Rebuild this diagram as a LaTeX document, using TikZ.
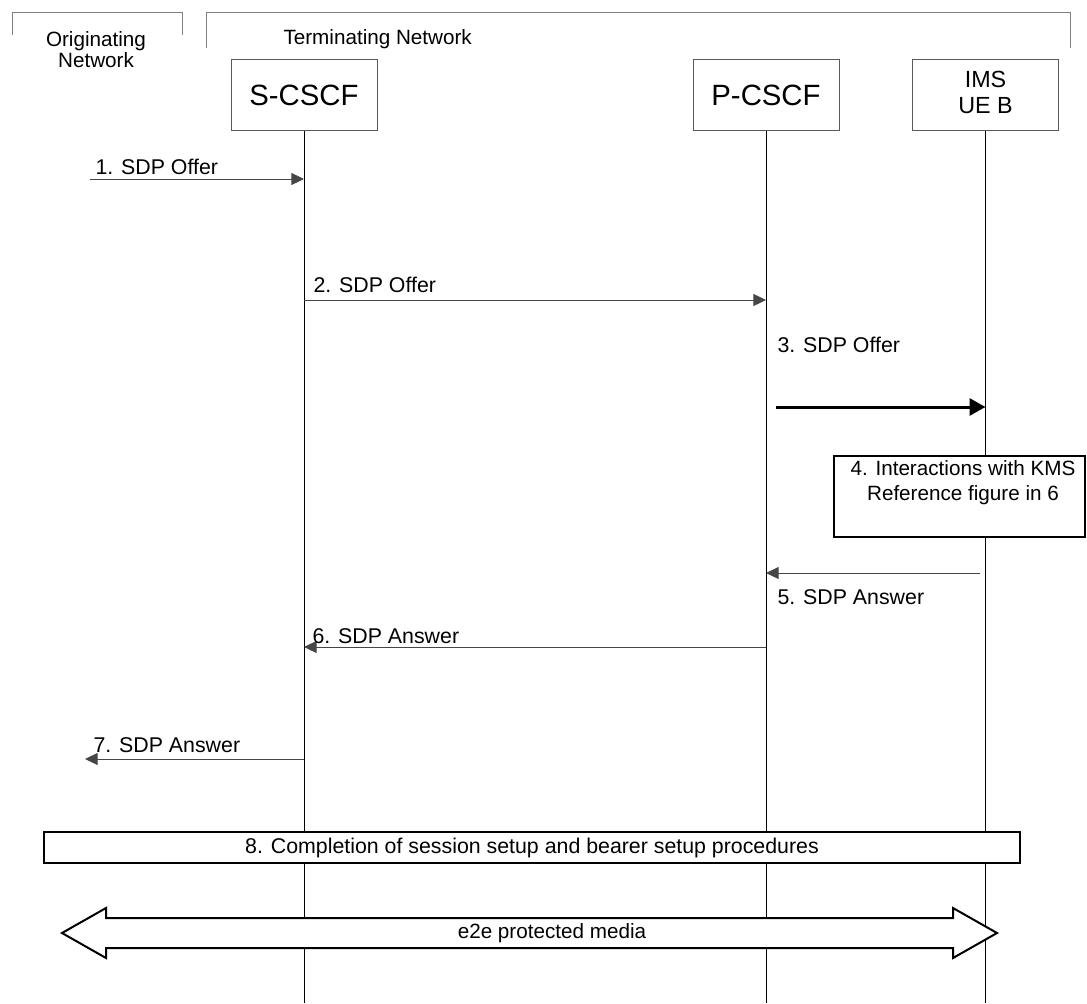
\documentclass[tikz,border=0pt]{standalone}
\usepackage{fontspec}
\setmainfont{Liberation Sans}
\usetikzlibrary{arrows.meta}

\tikzset{every picture/.style={line width=0.75pt}}

\begin{document}
\begin{tikzpicture}[x=0.75pt,y=0.75pt,yscale=-1,xscale=1,
  netline/.style={color={rgb, 255:red, 128; green, 128; blue, 128 }},
  netlabel/.style={inner sep=0pt,font=\fontsize{15.5}{15.75}\selectfont},
  entity/.style={draw={rgb, 255:red, 90; green, 90; blue, 90 },fill=white,minimum width=109.5pt,minimum height=53.25pt,inner sep=0pt,font=\fontsize{22}{24}\selectfont},
  msglabel/.style={anchor=west,inner sep=0pt,font=\fontsize{16}{18}\selectfont},
  msg/.style={draw={rgb, 255:red, 70; green, 70; blue, 70 },-{Triangle[length=9.5pt,width=9pt]}},
  msgbold/.style={line width=2.25pt,-{Triangle[length=12pt,width=12.75pt]}},
  stepbox/.style={draw,fill=white,line width=1.5pt,inner sep=0pt,font=\fontsize{16}{18}\selectfont}]
\useasboundingbox (0,0) rectangle (1087,1003);

%Network brackets
\draw [netline] (12,35) -- (12,12) -- (182,12) -- (182,35) ;
\draw [netline] (206,48) -- (206,12) -- (1070,12) -- (1070,48) ;
% Text Node
\node [netlabel,align=center] (orig) at (96,49.5) {Originating\\Network};
% Text Node
\node [netlabel,anchor=west] (term) at (283,39) {Terminating Network};

%Entities
\node [entity] (scscf) at (304,95) {\raisebox{-4pt}{S-CSCF}};
\node [entity] (pcscf) at (766,95) {\raisebox{-4pt}{P-CSCF}};
\node [entity] (ueb) at (985.5,95) {};
\node [align=center,inner sep=0pt,font=\fontsize{17.5}{19.5}\selectfont] (uebtext) at (985.5,92) {IMS\\UE B};

%Lifelines
\coordinate (bottom) at (0,1003);
\draw (scscf.south) -- (scscf.south |- bottom) ;
\draw (pcscf.south) -- (pcscf.south |- bottom) ;
\draw (ueb.south) -- (ueb.south |- bottom) ;

%Message rows
\coordinate (y1) at (90,179);
\coordinate (y2) at (0,300);
\coordinate (y3) at (0,407);
\coordinate (y5) at (0,573);
\coordinate (y6) at (0,647);
\coordinate (y7) at (85,759);

%1. SDP Offer
\draw [msg] (y1) -- (scscf.south |- y1) ;
\node [msglabel] (m1) at (95,167) {1. SDP Offer};
%2. SDP Offer
\draw [msg] (scscf.south |- y2) -- (pcscf.south |- y2) ;
\node [msglabel] (m2) at (313,285) {2. SDP Offer};
%3. SDP Offer
\draw [msgbold] ([xshift=7.5pt]pcscf.south |- y3) -- (ueb.south |- y3) ;
\node [msglabel] (m3) at (777,345) {3. SDP Offer};

%4. Interactions with KMS
\node [stepbox,minimum width=188.25pt,minimum height=60.75pt] (kms) at (959.5,496.5) {};
\node [align=center,inner sep=0pt,font=\fontsize{15.5}{18.75}\selectfont] (kmstext) at (963,482.5) {4. Interactions with KMS\\Reference figure in 6};

%5. SDP Answer
\draw [msg] ([xshift=-4pt]ueb.south |- y5) -- (pcscf.south |- y5) ;
\node [msglabel] (m5) at (777,597) {5. SDP Answer};
%6. SDP Answer
\draw [msg] (pcscf.south |- y6) -- (scscf.south |- y6) ;
\node [msglabel] (m6) at (312,636) {6. SDP Answer};
%7. SDP Answer
\draw [msg] (scscf.south |- y7) -- (y7) ;
\node [msglabel] (m7) at (93,745) {7. SDP Answer};

%8. Completion
\node [stepbox,minimum width=732pt,minimum height=23.25pt] (setup) at (532,847.5) {8. Completion of session setup and bearer setup procedures};

%Shape: Double arrow
\draw [fill=white,line width=1.5pt] (62,933) -- (106,908) -- (106,918) -- (953,918) -- (953,908) -- (997,933) -- (953,958) -- (953,948) -- (106,948) -- (106,958) -- cycle ;
% Text Node
\node [inner sep=0pt,font=\fontsize{15.5}{18}\selectfont] (media) at (552,933) {e2e protected media};

\end{tikzpicture}
\end{document}
